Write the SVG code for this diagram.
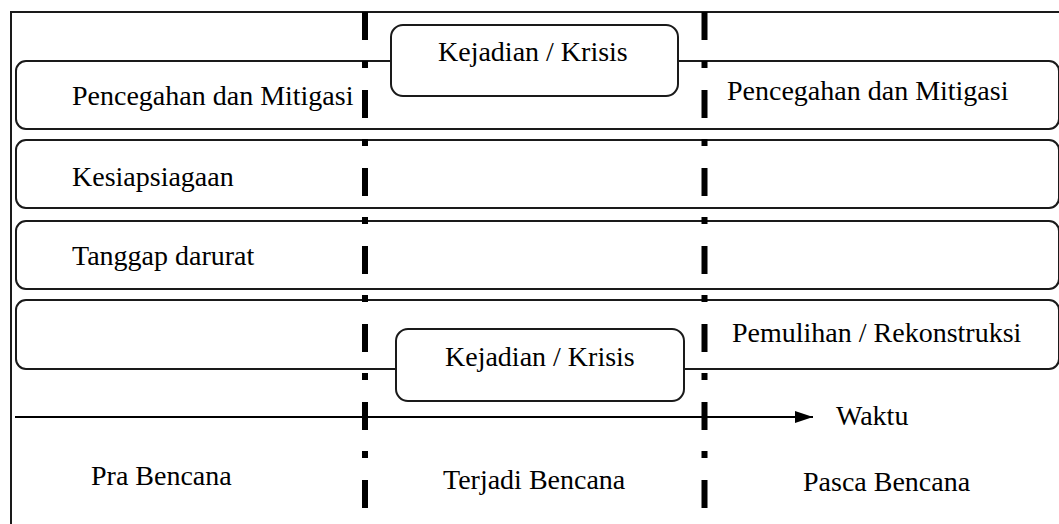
<svg xmlns="http://www.w3.org/2000/svg" width="1059" height="524" viewBox="0 0 1059 524">
<style>
.row{fill:#fff;stroke:#1a1a1a;stroke-width:2}
.box{fill:#fff;stroke:#1a1a1a;stroke-width:2}
.t{font-family:'Liberation Serif','DejaVu Serif','Times New Roman',serif;font-size:28px;fill:#000}
.frame{fill:none;stroke:#1a1a1a;stroke-width:2}
.dash{stroke:#000;stroke-width:6;stroke-dasharray:28 21 7 22;fill:none}
.axis{stroke:#000;stroke-width:2;fill:none}
</style>
<defs>
<marker id="arr" viewBox="0 0 18 12" refX="18" refY="6" markerWidth="18" markerHeight="12" markerUnits="userSpaceOnUse" orient="auto">
<path d="M0,0 L18,6 L0,12 z" fill="#000"/>
</marker>
</defs>
<rect width="1059" height="524" fill="#fff"/>
<path class="frame" d="M11,524 L11,12 L1059,12"/>
<g id="row-pencegahan">
<rect class="row" x="16" y="61" width="1043" height="68" rx="10"/>
<text class="t" font-family="Liberation Serif, serif" x="72" y="105">Pencegahan dan Mitigasi</text>
<text class="t" font-family="Liberation Serif, serif" x="727" y="100">Pencegahan dan Mitigasi</text>
</g>
<g id="row-kesiapsiagaan">
<rect class="row" x="16" y="140" width="1043" height="68" rx="10"/>
<text class="t" font-family="Liberation Serif, serif" x="72" y="186">Kesiapsiagaan</text>
</g>
<g id="row-tanggap">
<rect class="row" x="16" y="221" width="1043" height="68" rx="10"/>
<text class="t" font-family="Liberation Serif, serif" x="72" y="265">Tanggap darurat</text>
</g>
<g id="row-pemulihan">
<rect class="row" x="16" y="300" width="1043" height="69" rx="10"/>
<text class="t" font-family="Liberation Serif, serif" x="732" y="342">Pemulihan / Rekonstruksi</text>
</g>
<g id="kejadian-top">
<rect class="box" x="391" y="25" width="287" height="71" rx="12"/>
<text class="t" font-family="Liberation Serif, serif" x="438" y="61">Kejadian / Krisis</text>
</g>
<g id="kejadian-bottom">
<rect class="box" x="396" y="329" width="288" height="72" rx="12"/>
<text class="t" font-family="Liberation Serif, serif" x="445" y="366">Kejadian / Krisis</text>
</g>
<g id="connectors">
<line class="axis" x1="15" y1="417" x2="813" y2="417" marker-end="url(#arr)"/>
<line class="dash" x1="365" y1="12" x2="365" y2="524"/>
<line class="dash" x1="704.5" y1="12" x2="704.5" y2="524"/>
</g>
<g id="labels">
<text class="t" font-family="Liberation Serif, serif" x="836" y="425">Waktu</text>
<text class="t" font-family="Liberation Serif, serif" x="91" y="485">Pra Bencana</text>
<text class="t" font-family="Liberation Serif, serif" x="443" y="489">Terjadi Bencana</text>
<text class="t" font-family="Liberation Serif, serif" x="803" y="491">Pasca Bencana</text>
</g>
</svg>
